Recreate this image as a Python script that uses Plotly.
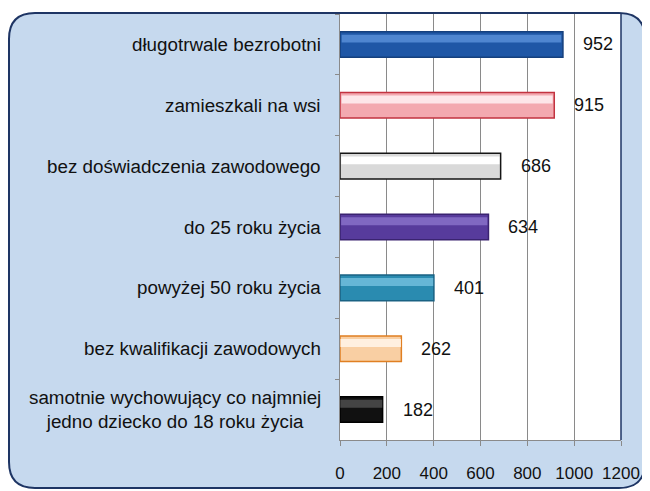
import plotly.graph_objects as go

# ---- data ----
categories = [
    "długotrwale bezrobotni",
    "zamieszkali na wsi",
    "bez doświadczenia zawodowego",
    "do 25 roku życia",
    "powyżej 50 roku życia",
    "bez kwalifikacji zawodowych",
    "samotnie wychowujący co najmniej<br>jedno dziecko do 18 roku życia",
]
values = [952, 915, 686, 634, 401, 262, 182]

base_colors = ["#1f57a6", "#f3a9b0", "#d9d9d9", "#573b9c", "#2a8bb0", "#f9cfa3", "#111111"]
border_colors = ["#15407d", "#c23340", "#151515", "#3a2370", "#1a6283", "#e07f22", "#000000"]
light_colors = ["#4f86d0", "#fde6e9", "#ffffff", "#8068c2", "#66b6d6", "#fff0e0", "#444444"]

# the page adds an 8px body margin, so the figure is a bit smaller
W, H = 640, 481
ML, MR, MT, MB = 332, 27, 6, 49
PW, PH = W - ML - MR, H - MT - MB


def px(x):
    return (x - ML) / PW


def py(y):
    return (H - MB - y) / PH


def rounded_path(x0, y0, x1, y1, r):
    return (
        f"M {px(x0 + r)} {py(y0)} L {px(x1 - r)} {py(y0)} "
        f"Q {px(x1)} {py(y0)} {px(x1)} {py(y0 + r)} "
        f"L {px(x1)} {py(y1 - r)} Q {px(x1)} {py(y1)} {px(x1 - r)} {py(y1)} "
        f"L {px(x0 + r)} {py(y1)} Q {px(x0)} {py(y1)} {px(x0)} {py(y1 - r)} "
        f"L {px(x0)} {py(y0 + r)} Q {px(x0)} {py(y0)} {px(x0 + r)} {py(y0)} Z"
    )


fig = go.Figure()

# base bars
fig.add_trace(go.Bar(
    y=categories, x=values, orientation="h", width=0.42,
    marker=dict(color=base_colors, line=dict(color=border_colors, width=1.5)),
    hoverinfo="x+y", showlegend=False,
))
# glossy highlight band on the upper part of each bar
fig.add_trace(go.Bar(
    y=categories, x=[v * 0.985 for v in values], orientation="h",
    width=0.13, offset=-0.16, base=[v * 0.0075 for v in values],
    marker=dict(color=light_colors, line=dict(width=0)),
    hoverinfo="skip", showlegend=False,
))

# value labels
for c, v in zip(categories, values):
    fig.add_annotation(x=v, y=c, text=str(v), showarrow=False,
                       xanchor="left", xshift=18,
                       font=dict(size=18, color="#111111"))

# category labels
for c in categories:
    fig.add_annotation(x=0, xref="paper", y=c, text=c, showarrow=False,
                       xanchor="right", xshift=-17, align="center",
                       font=dict(size=18.8, color="#111111"))

# framed background
fig.add_shape(type="path", xref="paper", yref="paper", layer="below",
              path=rounded_path(1, 5, 637, 480, 26),
              fillcolor="#c6d9ee", line=dict(color="#1e3564", width=2))
fig.add_shape(type="rect", xref="paper", yref="paper", layer="below",
              x0=0, x1=1, y0=0, y1=py(6),
              fillcolor="white", line=dict(width=0))
fig.add_shape(type="line", xref="paper", yref="paper", layer="above",
              x0=1, x1=1, y0=0, y1=py(6),
              line=dict(color="#1e3564", width=1.5))

fig.update_layout(
    width=W, height=H,
    margin=dict(l=ML, r=MR, t=MT, b=MB),
    paper_bgcolor="white", plot_bgcolor="white",
    barmode="overlay", bargap=0.6,
    font=dict(family="Liberation Sans, Arial, sans-serif", color="#111111"),
    xaxis=dict(range=[0, 1200], dtick=200, showgrid=True, gridcolor="#8a8a8a",
               gridwidth=1, showline=True, linecolor="#8a8a8a", ticks="outside",
               ticklen=5, tickcolor="#8a8a8a", ticklabelstandoff=13,
               tickfont=dict(size=17), zeroline=False, fixedrange=True),
    yaxis=dict(autorange="reversed", showticklabels=False, showline=True,
               linecolor="#8a8a8a", ticks="outside", tickson="boundaries",
               ticklen=4, tickcolor="#8a8a8a", showgrid=False),
)

fig.write_html("out.html")
